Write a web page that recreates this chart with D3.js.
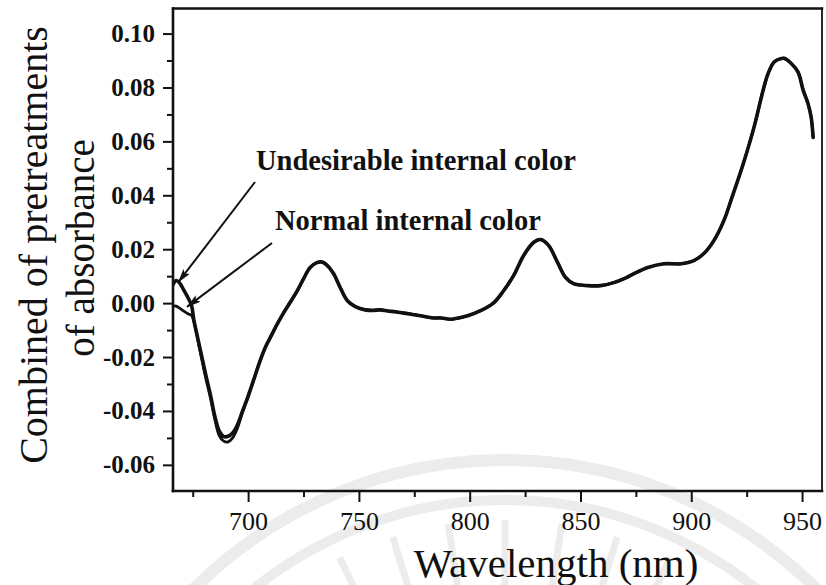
<!DOCTYPE html>
<html>
<head>
<meta charset="utf-8">
<script src="https://cdn.jsdelivr.net/npm/d3@7"></script>
<style>
  html, body { margin: 0; padding: 0; background: #ffffff; }
  svg { display: block; }
  text { font-family: "Liberation Serif", "Times New Roman", serif; fill: #111; }
</style>
</head>
<body>
<svg id="chart" width="826" height="585"></svg>
<script>
// Spectrum start (666–700 nm), where the two groups separate
const headWavelengths = [666.2, 667.5, 669, 671, 673, 674.5, 675.5, 677, 679, 681, 683, 685, 687, 689, 691, 693, 695, 697.5, 700];
const undesirableHead = [0.0070, 0.0084, 0.0076, 0.0048, 0.0018, -0.0010, -0.0062, -0.0120, -0.0195, -0.0270, -0.0340, -0.0420, -0.0475, -0.0495, -0.0494, -0.0482, -0.0455, -0.0400, -0.0345];
const normalHead = [-0.0010, -0.0011, -0.0018, -0.0030, -0.0040, -0.0046, -0.0068, -0.0125, -0.0205, -0.0282, -0.0352, -0.0432, -0.0492, -0.0512, -0.0515, -0.0500, -0.0468, -0.0405, -0.0348];

// Remainder of the spectrum, common to both groups
const tailWavelengths = [702.5, 705.4, 708, 710, 713, 715.8, 719, 722.2, 725, 728, 731, 733, 735, 738.4, 741.6, 744.8, 748.4, 752.9, 756, 759.7, 763, 766.5, 768.7, 773, 777.8, 783.6, 787, 791.3, 795, 799, 804.9, 810.8, 815.3, 819.8, 824.3, 828.8, 832, 835.6, 839.7, 843.3, 846.9, 853.3, 859.1, 865, 870, 874.1, 880.4, 887.6, 895.3, 901.2, 905.7, 910.2, 914.7, 918.4, 923.5, 928.3, 932.4, 934.6, 937.3, 940, 941.9, 945, 948.2, 950.5, 952.7, 954.1, 955];
const tailValues = [-0.0285, -0.0214, -0.0160, -0.0128, -0.0080, -0.0039, 0.0003, 0.0046, 0.0090, 0.0132, 0.0150, 0.0153, 0.0145, 0.0112, 0.0057, 0.0009, -0.0013, -0.0025, -0.0027, -0.0025, -0.0029, -0.0032, -0.0035, -0.0040, -0.0047, -0.0055, -0.0055, -0.0060, -0.0055, -0.0047, -0.0028, 0.0001, 0.0046, 0.0102, 0.0176, 0.0225, 0.0236, 0.0214, 0.0150, 0.0095, 0.0072, 0.0065, 0.0065, 0.0076, 0.0092, 0.0109, 0.0132, 0.0146, 0.0146, 0.0158, 0.0184, 0.0232, 0.0306, 0.0393, 0.0518, 0.0652, 0.0789, 0.0850, 0.0894, 0.0906, 0.0908, 0.0890, 0.0857, 0.0790, 0.0740, 0.0690, 0.0615];

// Axis ticks and labels
const xMajorTicks = [700, 750, 800, 850, 900, 950];
const xTickLabels = ["700", "750", "800", "850", "900", "950"];
const xMinorTicks = [675, 725, 775, 825, 875, 925];
const yMajorTicks = [-0.06, -0.04, -0.02, 0.00, 0.02, 0.04, 0.06, 0.08, 0.10];
const yTickLabels = ["-0.06", "-0.04", "-0.02", "0.00", "0.02", "0.04", "0.06", "0.08", "0.10"];
const yMinorTicks = [-0.05, -0.03, -0.01, 0.01, 0.03, 0.05, 0.07, 0.09];

const seriesNames = ["Undesirable internal color", "Normal internal color"];

const svg = d3.select("#chart");
const plot = { left: 173, right: 822, top: 8.5, bottom: 491 };

// Faint background emblem (arcs and rays) behind the lower part of the chart
const emblem = svg.append("g").attr("fill", "none").attr("stroke", "#ececec");
const ec = { x: 505, y: 900 };
[{ r: 440, w: 12 }, { r: 400, w: 10 }].forEach(a => {
  emblem.append("path")
    .attr("transform", `translate(${ec.x},${ec.y})`)
    .attr("stroke-width", a.w)
    .attr("d", d3.arc()({ innerRadius: a.r, outerRadius: a.r, startAngle: -0.95, endAngle: 0.95 }));
});
d3.range(-0.6, 0.61, 0.15).forEach(t => {
  emblem.append("line")
    .attr("stroke-width", 7)
    .attr("x1", ec.x + Math.sin(t) * 250).attr("y1", ec.y - Math.cos(t) * 250)
    .attr("x2", ec.x + Math.sin(t) * 380).attr("y2", ec.y - Math.cos(t) * 380);
});

const x = d3.scaleLinear().domain([666.1, 959]).range([plot.left, plot.right]);
const y = d3.scaleLinear().domain([-0.0697, 0.1093]).range([plot.bottom, plot.top]);

const zip = (xs, ys) => xs.map((d, i) => [d, ys[i]]);
const tail = zip(tailWavelengths, tailValues);
const series = [
  zip(headWavelengths, undesirableHead).concat(tail),
  zip(headWavelengths, normalHead).concat(tail)
];

svg.append("clipPath").attr("id", "plotClip")
  .append("rect").attr("x", plot.left).attr("y", plot.top)
  .attr("width", plot.right - plot.left).attr("height", plot.bottom - plot.top);

const line = d3.line()
  .x(d => x(d[0])).y(d => y(d[1]))
  .curve(d3.curveCatmullRom.alpha(0.5));

svg.append("g").attr("clip-path", "url(#plotClip)")
  .selectAll("path.spectrum").data(series).join("path")
  .attr("class", "spectrum")
  .attr("fill", "none")
  .attr("stroke", "#111")
  .attr("stroke-width", (d, i) => i === 0 ? 3.6 : 2.8)
  .attr("stroke-linejoin", "round")
  .attr("stroke-linecap", "round")
  .attr("d", line);

// Axes
const fontY = 25, fontX = 26;
const yAxisMajor = d3.axisLeft(y).tickValues(yMajorTicks).tickSize(10).tickPadding(8)
  .tickFormat((d, i) => yTickLabels[i]);
const yAxisMinor = d3.axisLeft(y).tickValues(yMinorTicks).tickSize(6).tickFormat("");
const xAxisMajor = d3.axisBottom(x).tickValues(xMajorTicks).tickSize(11).tickPadding(10)
  .tickFormat((d, i) => xTickLabels[i]);
const xAxisMinor = d3.axisBottom(x).tickValues(xMinorTicks).tickSize(6).tickFormat("");

function styleAxis(g, size, weight) {
  g.select(".domain").remove();
  g.selectAll(".tick line").attr("stroke", "#111").attr("stroke-width", 2);
  g.selectAll(".tick text")
    .style("font-family", '"Liberation Serif", serif')
    .style("font-size", size + "px")
    .style("font-weight", weight)
    .attr("fill", "#111");
}

svg.append("g").attr("transform", `translate(${plot.left},0)`).call(yAxisMajor).call(g => styleAxis(g, fontY, "bold"));
svg.append("g").attr("transform", `translate(${plot.left},0)`).call(yAxisMinor).call(g => styleAxis(g, fontY, "bold"));
svg.append("g").attr("transform", `translate(0,${plot.bottom})`).call(xAxisMajor).call(g => styleAxis(g, fontX, "normal"));
svg.append("g").attr("transform", `translate(0,${plot.bottom})`).call(xAxisMinor).call(g => styleAxis(g, fontX, "normal"));

// Plot frame
const frame = svg.append("g").attr("stroke", "#111").attr("fill", "none").attr("stroke-linecap", "square");
frame.append("line").attr("x1", plot.left).attr("x2", plot.left).attr("y1", plot.top).attr("y2", plot.bottom).attr("stroke-width", 2.6);
frame.append("line").attr("x1", plot.left).attr("x2", plot.right).attr("y1", plot.bottom).attr("y2", plot.bottom).attr("stroke-width", 2.6);
frame.append("line").attr("x1", plot.left).attr("x2", plot.right).attr("y1", plot.top).attr("y2", plot.top).attr("stroke-width", 2.4);
frame.append("line").attr("x1", plot.right).attr("x2", plot.right).attr("y1", plot.top).attr("y2", plot.bottom).attr("stroke-width", 1.8);

// Axis titles
svg.append("text")
  .attr("x", 556).attr("y", 577)
  .attr("text-anchor", "middle")
  .style("font-size", "41px")
  .text("Wavelength (nm)");

const yTitle = svg.append("g");
yTitle.append("text")
  .attr("transform", "translate(47,245) rotate(-90)")
  .attr("text-anchor", "middle")
  .style("font-size", "40px")
  .text("Combined of pretreatments");
yTitle.append("text")
  .attr("transform", "translate(94,248) rotate(-90)")
  .attr("text-anchor", "middle")
  .style("font-size", "39px")
  .text("of absorbance");

// Callouts pointing to the start of each spectrum
const defs = svg.append("defs");
defs.append("marker").attr("id", "arrowHead")
  .attr("viewBox", "0 0 14 8").attr("refX", 14).attr("refY", 4)
  .attr("markerWidth", 14).attr("markerHeight", 8).attr("markerUnits", "userSpaceOnUse")
  .attr("orient", "auto")
  .append("path").attr("d", "M0,0 L14,4 L0,8 L3,4 Z").attr("fill", "#111");

const callouts = [
  { name: seriesNames[0], tx: 256, ty: 170, from: [255, 182], at: [headWavelengths[1], undesirableHead[1]], off: [2, 2] },
  { name: seriesNames[1], tx: 275, ty: 230, from: [272, 243], at: [672.4, -0.0014], off: [0, 0] }
];
callouts.forEach(c => {
  svg.append("text")
    .attr("x", c.tx).attr("y", c.ty)
    .style("font-size", "28.5px").style("font-weight", "bold")
    .text(c.name);
  svg.append("line")
    .attr("x1", c.from[0]).attr("y1", c.from[1])
    .attr("x2", x(c.at[0]) + c.off[0]).attr("y2", y(c.at[1]) + c.off[1])
    .attr("stroke", "#111").attr("stroke-width", 2)
    .attr("marker-end", "url(#arrowHead)");
});
</script>
</body>
</html>
